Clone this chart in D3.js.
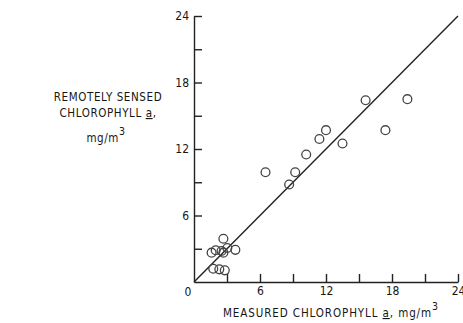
<!DOCTYPE html>
<html>
<head>
<meta charset="utf-8">
<script src="https://cdn.jsdelivr.net/npm/d3@7"></script>
<style>
  body { margin: 0; background: #fff; }
  svg { display: block; }
  text { font-family: "DejaVu Sans Condensed", "Liberation Sans Narrow", sans-serif; fill: #161616; }
  .tick text { font-size: 12px; }
</style>
</head>
<body>
<div id="chart"></div>
<script>
// measured vs remotely sensed chlorophyll a (mg/m3)
const measured = [15.6, 19.4, 17.4, 12.0, 11.4, 13.5, 10.2, 6.5, 9.2, 8.65,
                  2.67, 3.76, 3.03, 1.6, 1.97, 2.5, 2.67, 1.75, 2.3, 2.8]
const remote   = [16.4, 16.5, 13.7, 13.7, 12.9, 12.5, 11.5, 9.9, 9.9, 8.8,
                  3.9, 2.9, 3.07, 2.65, 2.86, 2.8, 2.65, 1.2, 1.14, 1.05]

const tickVals = [3, 6, 9, 12, 15, 18, 21, 24]
const labelVals = [6, 12, 18, 24]

const width = 463
const height = 323

const svg = d3.select('#chart')
  .append('svg')
  .attr('width', width)
  .attr('height', height)

const x = d3.scaleLinear().domain([0, 24]).range([194, 458])
const y = d3.scaleLinear().domain([0, 24]).range([282, 16])

const fmt = d => labelVals.includes(d) ? d : ''

const xAxis = d3.axisBottom(x).tickValues(tickVals).tickSize(-8).tickSizeOuter(0)
  .tickPadding(4).tickFormat(fmt)
const yAxis = d3.axisLeft(y).tickValues(tickVals).tickSize(-8).tickSizeOuter(0)
  .tickPadding(5).tickFormat(fmt)

const gx = svg.append('g')
  .attr('transform', 'translate(0,' + y(0) + ')')
  .call(xAxis)
const gy = svg.append('g')
  .attr('transform', 'translate(' + x(0) + ',0)')
  .call(yAxis)

svg.selectAll('.domain, .tick line').attr('stroke', '#222').attr('stroke-width', 1.4)
gx.selectAll('.tick text').attr('dy', '0.75em')

// origin label
svg.append('text')
  .attr('x', x(0) - 6)
  .attr('y', y(0) + 14)
  .attr('text-anchor', 'middle')
  .style('font-size', '12px')
  .text('0')

// 1:1 line
svg.append('line')
  .attr('x1', x(0)).attr('y1', y(0))
  .attr('x2', x(24)).attr('y2', y(24))
  .attr('stroke', '#222')
  .attr('stroke-width', 1.4)

// points
svg.selectAll('circle')
  .data(measured)
  .enter()
  .append('circle')
  .attr('cx', d => x(d))
  .attr('cy', (d, i) => y(remote[i]))
  .attr('r', 4.4)
  .attr('fill', 'none')
  .attr('stroke', '#444')
  .attr('stroke-width', 1.3)

// y title
const yt = svg.append('text')
  .attr('text-anchor', 'middle')
  .style('font-size', '11.5px')
  .style('letter-spacing', '0.6px')
yt.append('tspan').attr('x', 108).attr('y', 101).text('REMOTELY SENSED')
const l2 = yt.append('tspan').attr('x', 108).attr('y', 117)
l2.append('tspan').text('CHLOROPHYLL ')
l2.append('tspan').attr('text-decoration', 'underline').text('a')
l2.append('tspan').text(',')
const l3 = yt.append('tspan').attr('x', 106).attr('y', 142)
l3.append('tspan').text('mg/m')
l3.append('tspan').attr('dy', -7).style('font-size', '10.5px').text('3')

// x title
const xt = svg.append('text')
  .attr('x', 223)
  .attr('y', 317)
  .style('font-size', '11.5px')
  .style('letter-spacing', '0.9px')
xt.append('tspan').text('MEASURED CHLOROPHYLL ')
xt.append('tspan').attr('text-decoration', 'underline').text('a')
xt.append('tspan').text(',  mg/m')
xt.append('tspan').attr('dy', -7).style('font-size', '10.5px').text('3')
</script>
</body>
</html>
